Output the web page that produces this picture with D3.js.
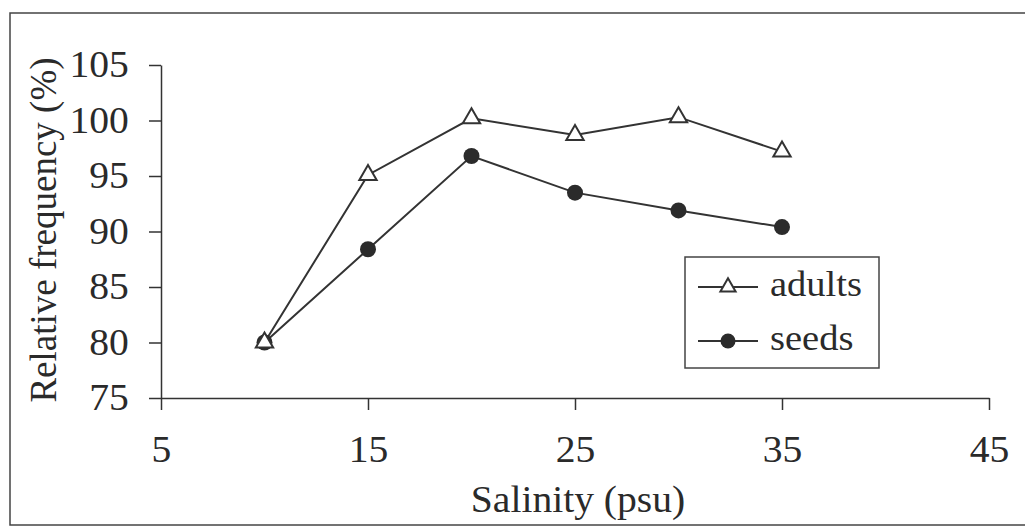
<!DOCTYPE html>
<html>
<head>
<meta charset="utf-8">
<script src="https://cdn.jsdelivr.net/npm/d3@7"></script>
<style>
  html, body { margin: 0; padding: 0; background: #fff; }
  svg { display: block; }
  text { font-family: "Liberation Serif", "Times New Roman", serif; fill: #2a2a2a; }
</style>
</head>
<body>
<svg id="chart" width="1025" height="531"></svg>
<script>
// Salinity levels (psu) and relative frequency (%) for each life stage
const salinity = [10, 15, 20, 25, 30, 35];
const adults = [80.0, 95.1, 100.2, 98.7, 100.3, 97.2];
const seeds = [80.0, 88.4, 96.8, 93.5, 91.9, 90.4];
const xTicks = [5, 15, 25, 35, 45];
const yTicks = [75, 80, 85, 90, 95, 100, 105];
const seriesNames = ["adults", "seeds"];

const svg = d3.select("#chart");
const ink = "#333";
const fontSize = 37;
const stretch = 1.07; // horizontal text runs slightly wide

// Outer frame
svg.append("rect")
  .attr("x", 10).attr("y", 13)
  .attr("width", 1030).attr("height", 512)
  .attr("fill", "none").attr("stroke", "#444").attr("stroke-width", 1.5);

const x = d3.scaleLinear().domain([5, 45]).range([161, 989]);
const y = d3.scaleLinear().domain([75, 105]).range([398, 65]);

// X axis (ticks hang below the line)
const xAxis = svg.append("g")
  .attr("transform", `translate(0,${y(75)})`)
  .call(d3.axisBottom(x).tickValues(xTicks).tickSize(12).tickPadding(26).tickSizeOuter(0));
xAxis.select(".domain").attr("stroke", ink).attr("stroke-width", 1.5);
xAxis.selectAll(".tick line").attr("stroke", ink).attr("stroke-width", 1.5);
xAxis.selectAll(".tick text")
  .attr("font-size", fontSize).attr("fill", "#2a2a2a")
  .attr("transform", `scale(${stretch},1)`);

// Y axis
const yAxis = svg.append("g")
  .attr("transform", `translate(${x(5)},0)`)
  .call(d3.axisLeft(y).tickValues(yTicks).tickSize(12).tickPadding(18).tickSizeOuter(0));
yAxis.select(".domain").attr("stroke", ink).attr("stroke-width", 1.5);
yAxis.selectAll(".tick line").attr("stroke", ink).attr("stroke-width", 1.5);
yAxis.selectAll(".tick text")
  .attr("font-size", fontSize).attr("fill", "#2a2a2a")
  .attr("transform", `scale(${stretch},1)`);

// Axis titles
svg.append("text")
  .attr("transform", `translate(578,512) scale(${stretch},1)`)
  .attr("text-anchor", "middle")
  .attr("font-size", fontSize)
  .text("Salinity (psu)");

svg.append("text")
  .attr("transform", `translate(56,230) rotate(-90)`)
  .attr("text-anchor", "middle")
  .attr("font-size", fontSize)
  .text("Relative frequency (%)");

// Lines
const line = d3.line().x((d, i) => x(salinity[i])).y(d => y(d));

svg.append("path").datum(seeds)
  .attr("d", line).attr("fill", "none").attr("stroke", ink).attr("stroke-width", 2);
svg.append("path").datum(adults)
  .attr("d", line).attr("fill", "none").attr("stroke", ink).attr("stroke-width", 2);

// Markers
const tri = d3.symbol().type(d3.symbolTriangle).size(130);

svg.append("g").selectAll("circle").data(seeds).join("circle")
  .attr("cx", (d, i) => x(salinity[i])).attr("cy", d => y(d))
  .attr("r", 8).attr("fill", "#2b2b2b");

svg.append("g").selectAll("path").data(adults).join("path")
  .attr("d", tri)
  .attr("transform", (d, i) => `translate(${x(salinity[i])},${y(d)})`)
  .attr("fill", "#fff").attr("stroke", ink).attr("stroke-width", 2);

// Legend
const legend = svg.append("g");
legend.append("rect")
  .attr("x", 685).attr("y", 257).attr("width", 194).attr("height", 111)
  .attr("fill", "#fff").attr("stroke", "#444").attr("stroke-width", 1.5);

const rows = [287, 341];
seriesNames.forEach((name, k) => {
  const ry = rows[k];
  legend.append("line")
    .attr("x1", 698).attr("x2", 758).attr("y1", ry).attr("y2", ry)
    .attr("stroke", ink).attr("stroke-width", 2);
  if (name === "adults") {
    legend.append("path").attr("d", d3.symbol().type(d3.symbolTriangle).size(100))
      .attr("transform", `translate(728,${ry})`)
      .attr("fill", "#fff").attr("stroke", ink).attr("stroke-width", 2);
  } else {
    legend.append("circle").attr("cx", 728).attr("cy", ry).attr("r", 7.5).attr("fill", "#2b2b2b");
  }
  legend.append("text")
    .attr("transform", `translate(770,${ry + 9}) scale(${stretch},1)`)
    .attr("font-size", fontSize - 1)
    .text(name);
});
</script>
</body>
</html>
